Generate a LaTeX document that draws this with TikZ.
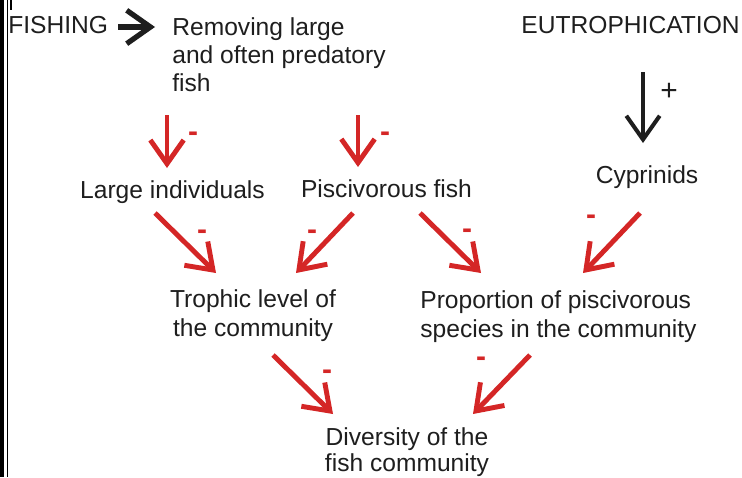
\documentclass[tikz,border=0pt]{standalone}
\usepackage{fontspec}
\setmainfont{Liberation Sans}
\usepackage{xcolor}
\usetikzlibrary{arrows.meta}

\definecolor{effred}{RGB}{212,38,38}
\definecolor{inkgray}{RGB}{30,30,30}

\begin{document}
\begin{tikzpicture}[
        x=0.02cm,
        y=-0.02cm,
        every node/.style={
            font=\fontsize{14}{16}\selectfont,
            text=inkgray,
            inner sep=0pt
        },
        txt/.style={
            align=center
        },
        sign/.style={
            font=\fontsize{17}{18}\selectfont\bfseries,
            text=effred
        },
        effect/.style={
            draw=effred,
            line width=2.8pt,
            -{Straight Barb[length=13.5pt, width=19pt]}
        },
        driver/.style={
            draw=inkgray,
            line width=2.3pt,
            -{Straight Barb[length=13.5pt, width=19pt]}
        }
    ]

    \useasboundingbox (0,0) rectangle (742,477);

    % Frame on the left

    \draw[line width=2pt] (1.8,0) -- (1.8,477);
    \draw[line width=0.9pt] (7.5,0) -- (7.5,477);
    \draw[line width=0.9pt] (11,0) -- (11,10);

    % Drivers

    \node[anchor=west] (fishing) at (8,25) {FISHING};

    \node[anchor=west, align=left] (removing) at (172,55)
    {Removing large\\
    and often predatory\\
    fish};

    \node[anchor=east] (eutro) at (740,25) {EUTROPHICATION};

    % First level

    \node (large) at (172.5,191.8) {Large individuals};
    \node (pisc) at (386.5,189) {Piscivorous fish};
    \node (cyp) at (647,177.6) {Cyprinids};

    % Community level

    \node[txt] (trophic) at (253,315.6)
    {Trophic level of\\
    the community};

    \node[anchor=west, align=left] (prop) at (420,316.6)
    {Proportion of piscivorous\\
    species in the community};

    \node[txt, font=\fontsize{14}{14.8}\selectfont] (div) at (407,452.5)
    {Diversity of the\\
    fish community};

    % Black arrows

    \draw[driver, line width=3pt] ([shift={(10,2)}]fishing.east) -- ([shift={(-17,-28)}]removing.west);
    \draw[driver] ([shift={(-97,47)}]eutro.east) -- ([shift={(-4,-34.6)}]cyp.center);

    \node[font=\fontsize{17}{20}\selectfont] (plus) at (669,92) {+};

    % Red arrows

    \draw[effect] ([shift={(-5,60)}]removing.west) -- ([shift={(-5.5,-23.8)}]large.center);
    \draw[effect] ([shift={(186,60)}]removing.west) -- ([shift={(-28.5,-22)}]pisc.center);

    \draw[effect] ([shift={(-17.5,21.2)}]large.center) -- ([shift={(-37,-42.6)}]trophic.center);
    \draw[effect] ([shift={(-33.5,24)}]pisc.center) -- ([shift={(43,-42.6)}]trophic.center);
    \draw[effect] ([shift={(33.5,24)}]pisc.center) -- ([shift={(61,-43.6)}]prop.west);
    \draw[effect] ([shift={(-7,35.4)}]cyp.center) -- ([shift={(163,-43.6)}]prop.west);

    \draw[effect] ([shift={(20,39.4)}]trophic.center) -- ([shift={(-74,-38.5)}]div.center);
    \draw[effect] ([shift={(110,38.4)}]prop.west) -- ([shift={(66,-38.5)}]div.center);

    % Signs

    \node[sign] (s1) at (193,137) {-};
    \node[sign] (s2) at (385,137) {-};
    \node[sign] (s3) at (202,235) {-};
    \node[sign] (s4) at (312,235) {-};
    \node[sign] (s5) at (467,234) {-};
    \node[sign] (s6) at (591,220) {-};
    \node[sign] (s7) at (327,375) {-};
    \node[sign] (s8) at (481,362) {-};

\end{tikzpicture}
\end{document}
